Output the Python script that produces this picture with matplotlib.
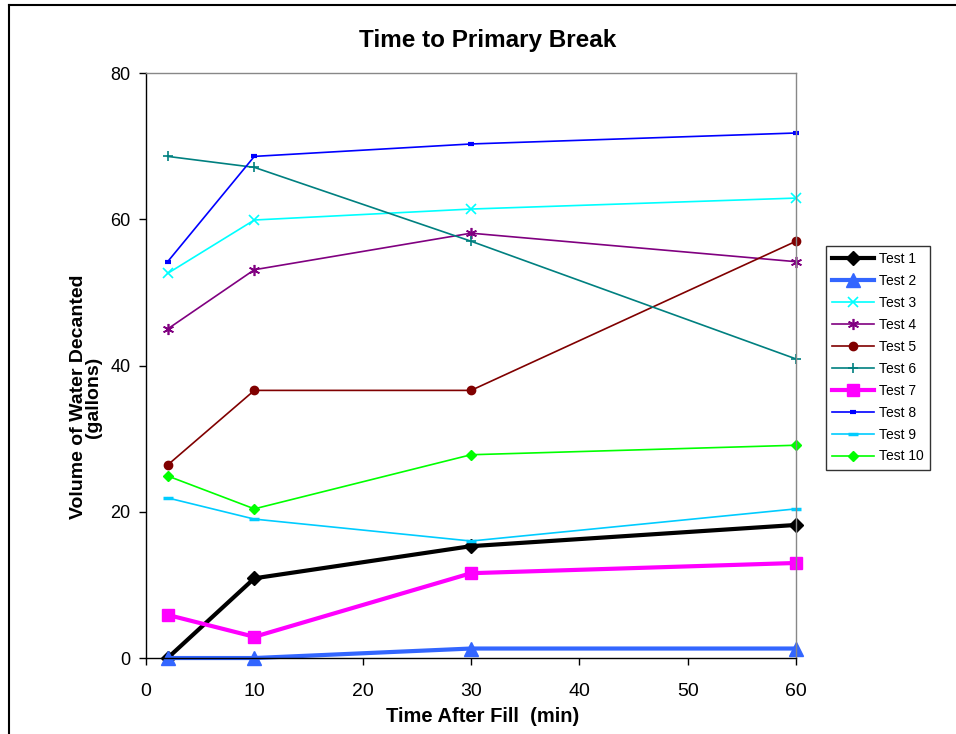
import matplotlib
matplotlib.use("Agg")
import matplotlib.pyplot as plt
from matplotlib.lines import Line2D

plt.rcParams['font.family'] = ['Liberation Sans', 'DejaVu Sans']

times = [2, 10, 30, 60]
test1 = [0.0, 10.9, 15.3, 18.2]
test2 = [0.0, 0.0, 1.3, 1.3]
test3 = [52.6, 59.9, 61.4, 62.9]
test4 = [45.0, 53.1, 58.1, 54.2]
test5 = [26.4, 36.6, 36.6, 57.0]
test6 = [68.6, 67.1, 57.0, 40.9]
test7 = [5.9, 2.9, 11.6, 13.0]
test8 = [54.2, 68.6, 70.3, 71.8]
test9 = [21.9, 19.0, 16.0, 20.4]
test10 = [24.9, 20.4, 27.8, 29.1]

series = [
    ("Test 1", test1, dict(color='black', lw=3, marker='D', ms=7)),
    ("Test 2", test2, dict(color='#3366FF', lw=3, marker='^', ms=10)),
    ("Test 3", test3, dict(color='#00FFFF', lw=1.2, marker='x', ms=7, mew=1.2)),
    ("Test 4", test4, dict(color='#800080', lw=1.2, marker=(6, 2, 0), ms=8, mew=1.2)),
    ("Test 5", test5, dict(color='#800000', lw=1.2, marker='o', ms=6)),
    ("Test 6", test6, dict(color='#008080', lw=1.2, marker='+', ms=7, mew=1.2)),
    ("Test 7", test7, dict(color='#FF00FF', lw=3, marker='s', ms=9)),
    ("Test 8", test8, dict(color='#0000FF', lw=1.2, marker='_', ms=5, mew=3)),
    ("Test 9", test9, dict(color='#00CCFF', lw=1.2, marker='_', ms=7, mew=2.5)),
    ("Test 10", test10, dict(color='#00FF00', lw=1.2, marker='D', ms=5)),
]

fig = plt.figure(figsize=(9.56, 7.34), dpi=100)
ax = fig.add_axes([0.1527, 0.1035, 0.68, 0.797])

for name, vals, st in series:
    ax.plot(times, vals, label=name, clip_on=False, **st)

ax.set_xlim(0, 60)
ax.set_ylim(0, 80)
ax.set_xticks(range(0, 61, 10))
ax.set_yticks(range(0, 81, 20))
ax.tick_params(axis='x', labelsize=14, direction='out', length=5, width=1, pad=13)
ax.tick_params(axis='y', labelsize=13, direction='out', length=5, width=1, pad=6)
ax.spines['left'].set_color('black')
ax.spines['bottom'].set_color('black')
ax.spines['top'].set_color('#888888')
ax.spines['right'].set_color('#888888')
for s in ax.spines.values():
    s.set_linewidth(1)

fig.text(0.5105, 1 - 41/734, "Time to Primary Break", ha='center', va='center',
         fontsize=17.5, fontweight='bold')
fig.text(483/956, 1 - 716/734, "Time After Fill  (min)", ha='center', va='center',
         fontsize=14.5, fontweight='bold')
fig.text(86/956, 1 - 397/734, "Volume of Water Decanted\n(gallons)", ha='center', va='center',
         rotation=90, fontsize=14, fontweight='bold', linespacing=0.85)

leg = fig.legend(loc='upper left', bbox_to_anchor=(826/956, 1 - 246/734),
                 fontsize=10, frameon=True, fancybox=False, edgecolor='black',
                 handlelength=3.0, labelspacing=0.57, borderpad=0.45,
                 handletextpad=0.35, borderaxespad=0)
leg.get_frame().set_linewidth(1)

fig.add_artist(Line2D([9/956, 9/956], [0, 1 - 5/734], color='black', lw=1.5,
                      transform=fig.transFigure))
fig.add_artist(Line2D([9/956, 1], [1 - 5/734, 1 - 5/734], color='black', lw=1.5,
                      transform=fig.transFigure))

fig.savefig("out.png", dpi=100)
